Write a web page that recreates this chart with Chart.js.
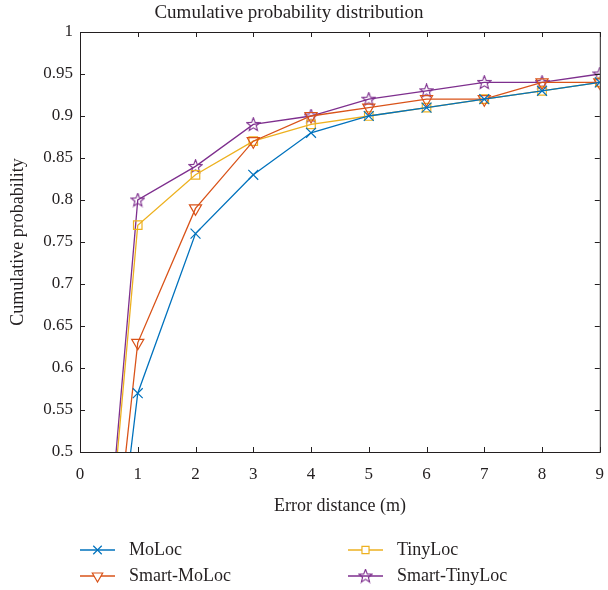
<!DOCTYPE html>
<html>
<head>
<meta charset="utf-8">
<script src="https://cdn.jsdelivr.net/npm/chart.js@4.4.1/dist/chart.umd.min.js"></script>
<style>
  html, body { margin: 0; padding: 0; background: #fff; }
  #wrap { width: 608px; height: 590px; }
</style>
</head>
<body>
<div id="wrap"><canvas id="cdfChart"></canvas></div>
<script>
// error distance (m) and cumulative probability per method
const distance = [0, 1, 2, 3, 4, 5, 6, 7, 8, 9];
const moLoc = [0, 0.57, 0.76, 0.83, 0.88, 0.90, 0.91, 0.92, 0.93, 0.94];
const smartMoLoc = [0, 0.63, 0.79, 0.87, 0.90, 0.91, 0.92, 0.92, 0.94, 0.94];
const tinyLoc = [0, 0.77, 0.83, 0.87, 0.89, 0.90, 0.91, 0.92, 0.93, 0.94];
const smartTinyLoc = [0, 0.80, 0.84, 0.89, 0.90, 0.92, 0.93, 0.94, 0.94, 0.95];
const seriesNames = ['MoLoc', 'Smart-MoLoc', 'TinyLoc', 'Smart-TinyLoc'];

const FONT = "'Liberation Serif', 'DejaVu Serif', serif";
const TEXT = '#231f20';

// five-pointed star marker, drawn once onto a small canvas
function makeStar(color) {
    const c = document.createElement('canvas');
    c.width = 15; c.height = 15;
    const g = c.getContext('2d');
    g.strokeStyle = color;
    g.lineWidth = 1.1;
    g.beginPath();
    for (let i = 0; i < 10; i++) {
        const r = i % 2 === 0 ? 7 : 3;
        const a = -Math.PI / 2 + i * Math.PI / 5;
        const px = 7.5 + r * Math.cos(a), py = 7.8 + r * Math.sin(a);
        if (i === 0) g.moveTo(px, py); else g.lineTo(px, py);
    }
    g.closePath();
    g.stroke();
    return c;
}

const toPoints = arr => arr.map((v, i) => ({ x: distance[i], y: v }));
const hideFirst = r => distance.map((d, i) => i === 0 ? 0 : r);

const styles = [
    { color: '#0072BD', pointStyle: 'crossRot', radius: 7, rotation: 0 },
    { color: '#D95319', pointStyle: 'triangle', radius: 7, rotation: 180 },
    { color: '#EDB120', pointStyle: 'rect', radius: 6, rotation: 0 },
    { color: '#7E2F8E', pointStyle: makeStar('#7E2F8E'), radius: 7, rotation: 0 }
];
const values = [moLoc, smartMoLoc, tinyLoc, smartTinyLoc];

const datasets = values.map((vals, i) => ({
    label: seriesNames[i],
    data: toPoints(vals),
    borderColor: styles[i].color,
    backgroundColor: 'rgba(0,0,0,0)',
    borderWidth: 1.3,
    pointStyle: styles[i].pointStyle,
    pointRotation: styles[i].rotation,
    pointRadius: hideFirst(styles[i].radius),
    pointBorderColor: styles[i].color,
    pointBackgroundColor: 'rgba(0,0,0,0)',
    pointBorderWidth: 1.2,
    tension: 0
}));

// box around the plot, inward ticks on all four sides, title and legend
const framePlugin = {
    id: 'frame',
    afterDraw(chart) {
        const { ctx, chartArea: a, scales } = chart;
        ctx.save();
        ctx.strokeStyle = '#231f20';
        ctx.lineWidth = 1;
        ctx.strokeRect(a.left + 0.5, a.top + 0.5, a.right - a.left, a.bottom - a.top);
        const tl = 5;
        ctx.beginPath();
        scales.x.ticks.forEach(t => {
            const x = Math.round(scales.x.getPixelForValue(t.value)) + 0.5;
            ctx.moveTo(x, a.bottom); ctx.lineTo(x, a.bottom - tl);
            ctx.moveTo(x, a.top); ctx.lineTo(x, a.top + tl);
        });
        scales.y.ticks.forEach(t => {
            const y = Math.round(scales.y.getPixelForValue(t.value)) + 0.5;
            ctx.moveTo(a.left, y); ctx.lineTo(a.left + tl, y);
            ctx.moveTo(a.right, y); ctx.lineTo(a.right - tl, y);
        });
        ctx.stroke();

        // title
        ctx.fillStyle = TEXT;
        ctx.font = '19px ' + FONT;
        ctx.textAlign = 'center';
        ctx.textBaseline = 'middle';
        ctx.fillText('Cumulative probability distribution', 289, 13);

        // legend, two columns
        const slots = [[80, 550], [80, 576], [348, 550], [348, 576]];
        chart.data.datasets.forEach((ds, i) => {
            const [lx, ly] = slots[i];
            ctx.strokeStyle = ds.borderColor;
            ctx.lineWidth = 1.3;
            ctx.beginPath();
            ctx.moveTo(lx, ly); ctx.lineTo(lx + 35, ly);
            ctx.stroke();
            ctx.lineWidth = 1.2;
            ctx.fillStyle = '#fff';
            Chart.helpers.drawPoint(ctx, {
                pointStyle: ds.pointStyle,
                radius: styles[i].radius - 1,
                rotation: ds.pointRotation,
                borderWidth: 1.2
            }, lx + 17.5, ly);
            ctx.fillStyle = TEXT;
            ctx.font = '18px ' + FONT;
            ctx.textAlign = 'left';
            ctx.fillText(ds.label, lx + 49, ly);
        });
        ctx.restore();
    }
};

const cdfCtx = document.getElementById('cdfChart').getContext('2d');

new Chart(cdfCtx, {
    type: 'line',
    data: { datasets: datasets },
    plugins: [framePlugin],
    options: {
        responsive: true,
        maintainAspectRatio: false,
        animation: false,
        layout: { padding: { top: 32, right: 4, bottom: 66, left: 0 } },
        plugins: {
            legend: { display: false },
            tooltip: { enabled: false }
        },
        scales: {
            x: {
                type: 'linear',
                min: 0,
                max: 9,
                grid: { display: false, drawTicks: false },
                border: { display: false },
                ticks: {
                    stepSize: 1,
                    padding: 12,
                    color: TEXT,
                    font: { family: FONT, size: 17 }
                },
                title: {
                    display: true,
                    text: 'Error distance (m)',
                    color: TEXT,
                    font: { family: FONT, size: 18 },
                    padding: { top: 4, bottom: 7 }
                },
                afterFit: s => {
                    s.height = 72;
                    s.paddingLeft = 0;
                    s.paddingRight = 0;
                }
            },
            y: {
                min: 0.5,
                max: 1,
                grid: { display: false, drawTicks: false },
                border: { display: false },
                ticks: {
                    stepSize: 0.05,
                    padding: 7,
                    color: TEXT,
                    font: { family: FONT, size: 17 },
                    callback: v => String(+v.toFixed(2))
                },
                title: {
                    display: true,
                    text: 'Cumulative probability',
                    color: TEXT,
                    font: { family: FONT, size: 18 },
                    padding: { top: 7, bottom: 0 }
                },
                afterFit: s => {
                    s.width = 80;
                    s.paddingTop = 0;
                    s.paddingBottom = 0;
                }
            }
        }
    }
});
</script>
</body>
</html>
